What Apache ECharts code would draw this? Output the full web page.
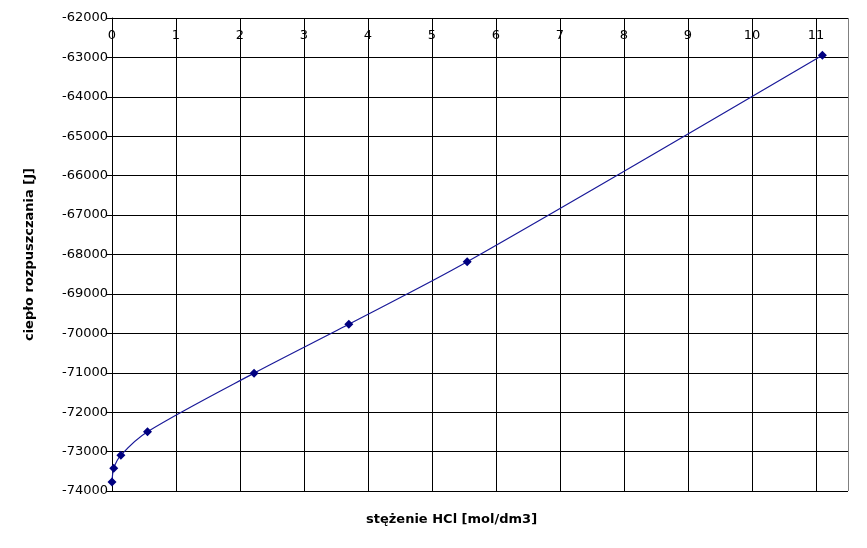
<!DOCTYPE html>
<html><head><meta charset="utf-8">
<script src="https://cdn.jsdelivr.net/npm/echarts@6/dist/echarts.min.js"></script>
<style>html,body{margin:0;padding:0;background:#fff}#c{width:867px;height:548px}</style>
</head><body><div id="c"></div>
<script>
const concentrations = [0, 0.0278, 0.139, 0.555, 2.22, 3.7, 5.55, 11.1];
const heats = [-73770, -73425, -73090, -72495, -71010, -69770, -68185, -62945];
const xTitle = 'stężenie HCl [mol/dm3]';
const yTitle = 'ciepło rozpuszczania [J]';

const chart = echarts.init(document.getElementById('c'), null, {renderer: 'canvas'});
const font = 'DejaVu Sans';
const xLineColors = [];
for (let i = 0; i < 12; i++) xLineColors.push('#000');
xLineColors.push('#808080');
chart.setOption({
  animation: false,
  backgroundColor: '#fff',
  grid: {left: 112, top: 18, right: 19, bottom: 57, containLabel: false},
  xAxis: {
    type: 'value', position: 'top', min: 0, max: 11.5, interval: 1,
    axisLine: {show: false}, axisTick: {show: false},
    axisLabel: {inside: true, margin: 11, color: '#000', fontFamily: font, fontSize: 13,
      showMaxLabel: false,
      formatter: v => (Number.isInteger(v) ? String(v) : '')},
    splitLine: {show: true, lineStyle: {color: xLineColors, width: 1}}
  },
  yAxis: {
    type: 'value', min: -74000, max: -62000, interval: 1000,
    axisLine: {show: true, onZero: false, lineStyle: {color: '#000', width: 1}},
    axisTick: {show: true, length: 6, lineStyle: {color: '#000'}},
    axisLabel: {color: '#000', fontFamily: font, fontSize: 13, margin: 4,
      formatter: v => String(v)},
    splitLine: {show: true, lineStyle: {color: '#000', width: 1}},
    name: yTitle, nameLocation: 'middle', nameGap: 76, nameRotate: 90,
    nameTextStyle: {fontFamily: font, fontSize: 13, fontWeight: 'bold', color: '#000'}
  },
  graphic: [{
    type: 'text', left: 366, top: 513,
    style: {text: xTitle, font: 'bold 13px "DejaVu Sans"', fill: '#000'}
  }],
  series: [{
    type: 'line',
    data: concentrations.map((c, i) => [c, heats[i]]),
    smooth: 0.3,
    symbol: 'diamond', symbolSize: 9,
    itemStyle: {color: '#000080'},
    lineStyle: {color: '#1a1a99', width: 1.2}
  }]
});
</script></body></html>
